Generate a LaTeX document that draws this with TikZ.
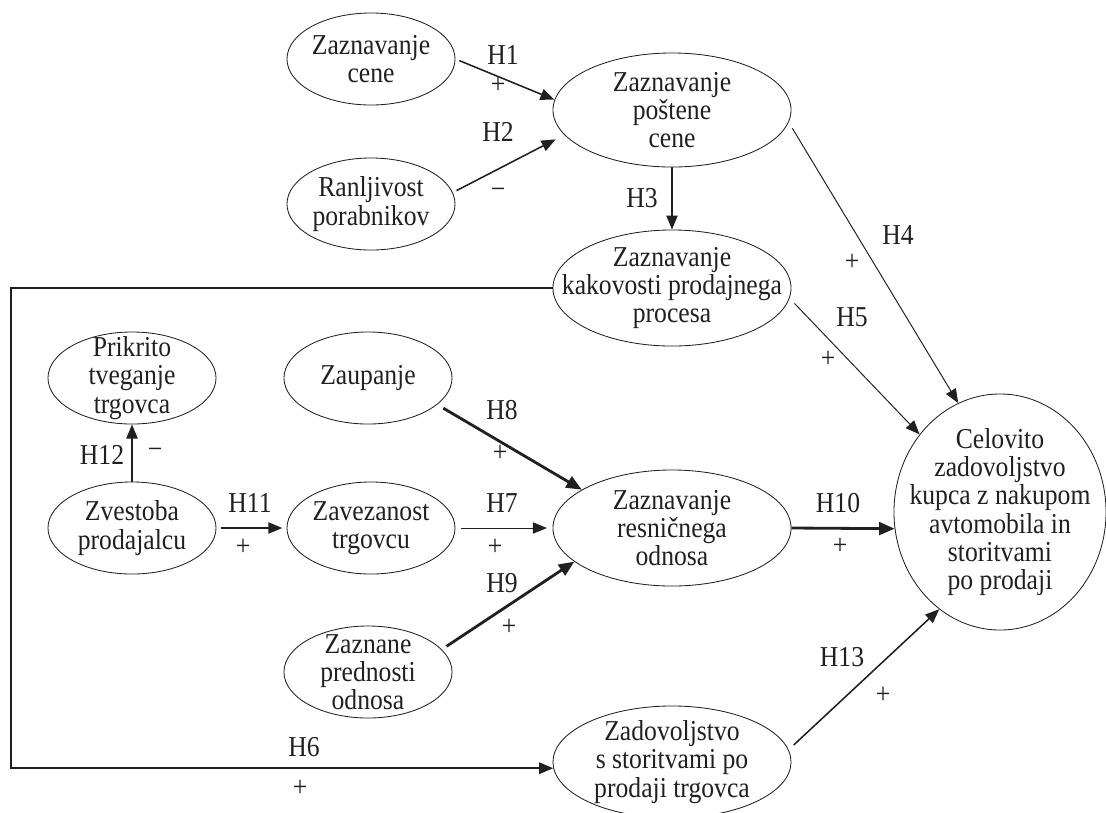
\documentclass[tikz,border=0pt]{standalone}
\usepackage{fontspec}
\setmainfont{Liberation Serif}[FakeStretch=0.89]
\usetikzlibrary{shapes.geometric,arrows.meta}
\definecolor{ink}{RGB}{35,31,32}
\tikzstyle{sv}=[shape=ellipse,
                draw=ink,
                line width=0.6pt,
                inner sep=0pt,
                minimum width=4.2cm,
                minimum height=2.3cm]
\tikzstyle{bv}=[sv,
                minimum width=5.95cm,
                minimum height=2.9cm]
\tikzstyle{tv}=[align=center,
                inner sep=0pt,
                font=\fontsize{20.5}{20}\selectfont]
\tikzstyle{hp}=[inner sep=0pt,
                font=\fontsize{20.5}{20}\selectfont]

\begin{document}
\begin{tikzpicture}[x=0.025cm,y=-0.025cm,color=ink,>={Triangle[length=10pt,width=8pt]}]
\useasboundingbox (0,0) rectangle (1106,812);

% price constructs
\node[sv, label={[tv]center:{Zaznavanje\\cene}}] (zc) at (371,59) {};
\node[sv, label={[tv]center:{Ranljivost\\porabnikov}}] (rp) at (371,204) {};
\node[bv, minimum height=2.85cm, label={[tv]center:{Zaznavanje\\poštene\\cene}}] (pc) at (672,110) {};
\node[bv, label={[tv]center:{Zaznavanje\\kakovosti prodajnega\\procesa}}] (kk) at (672,288) {};

% relationship constructs
\node[sv, label={[tv]center:{Prikrito\\tveganje\\trgovca}}] (pt) at (132,378) {};
\node[sv, label={[tv]center:{Zaupanje}}] (za) at (368,378) {};
\node[sv, label={[tv]center:{Zvestoba\\prodajalcu}}] (zv) at (132,528) {};
\node[sv, label={[tv]center:{Zavezanost\\trgovcu}}] (zt) at (371,528) {};
\node[sv, label={[tv]center:{Zaznane\\prednosti\\odnosa}}] (zp) at (368,672) {};
\node[bv, label={[tv]center:{Zaznavanje\\resničnega\\odnosa}}] (ro) at (672,528) {};
\node[bv, minimum height=2.8cm, label={[tv]center:{Zadovoljstvo\\s storitvami po\\prodaji trgovca}}] (zs) at (672,762) {};

% outcome
\node[sv, minimum width=5.3cm, minimum height=5.9cm,
      label={[tv]center:{Celovito\\zadovoljstvo\\kupca z nakupom\\avtomobila in\\storitvami\\po prodaji}}] (cz) at (1000,512) {};

\coordinate (corner) at (11,288);

% paths
\path[->, line width=1.1pt] (zc.east) edge[shorten <=3pt] (pc.175)
          (rp.8) edge[shorten <=3pt, shorten >=7pt] (pc.193)
          (pc.south) edge (kk.north)
          (zv.east) edge[shorten <=3pt, shorten >=3pt] (zt.west)
          (zv.north) edge (pt.south)
          (zs.6) edge[shorten <=5pt] (cz.238);

\path[->, line width=0.7pt] (pc.-6) edge[shorten <=5pt] (cz.111)
          (kk.-5) edge[shorten <=5pt] (cz.136)
          (zt.east) edge[shorten <=4pt, shorten >=4pt] (ro.west);

\path[->, line width=2pt, >={Triangle[length=11pt,width=9pt]}]
          (za.-21) edge[shorten <=5pt] (ro.157)
          (zp.17) edge[shorten <=4pt] (ro.199)
          (ro.east) edge (cz.189);

\draw[->, line width=1.5pt] (kk.west) -- (corner) |- (zs.183);

% hypothesis labels
\node[hp] (h1) at (503,55) {H1};   \node[hp] (s1) at (498,85) {+};
\node[hp] (h2) at (498,132) {H2};  \node[hp] (s2) at (498,193) {−};
\node[hp] (h3) at (642,198) {H3};
\node[hp] (h4) at (898,235) {H4};  \node[hp] (s4) at (852,262) {+};
\node[hp] (h5) at (852,317) {H5};  \node[hp] (s5) at (828,359) {+};
\node[hp] (h6) at (304,747) {H6};  \node[hp] (s6) at (300,788) {+};
\node[hp] (h7) at (502,503) {H7};  \node[hp] (s7) at (495,547) {+};
\node[hp] (h8) at (502,410) {H8};  \node[hp] (s8) at (500,453) {+};
\node[hp] (h9) at (502,583) {H9};  \node[hp] (s9) at (509,627) {+};
\node[hp] (h10) at (838,503) {H10}; \node[hp] (s10) at (840,546) {+};
\node[hp] (h11) at (250,503) {H11}; \node[hp] (s11) at (243,547) {+};
\node[hp] (h12) at (102,455) {H12}; \node[hp] (s12) at (155,453) {−};
\node[hp] (h13) at (842,657) {H13}; \node[hp] (s13) at (883,695) {+};
\end{tikzpicture}
\end{document}
